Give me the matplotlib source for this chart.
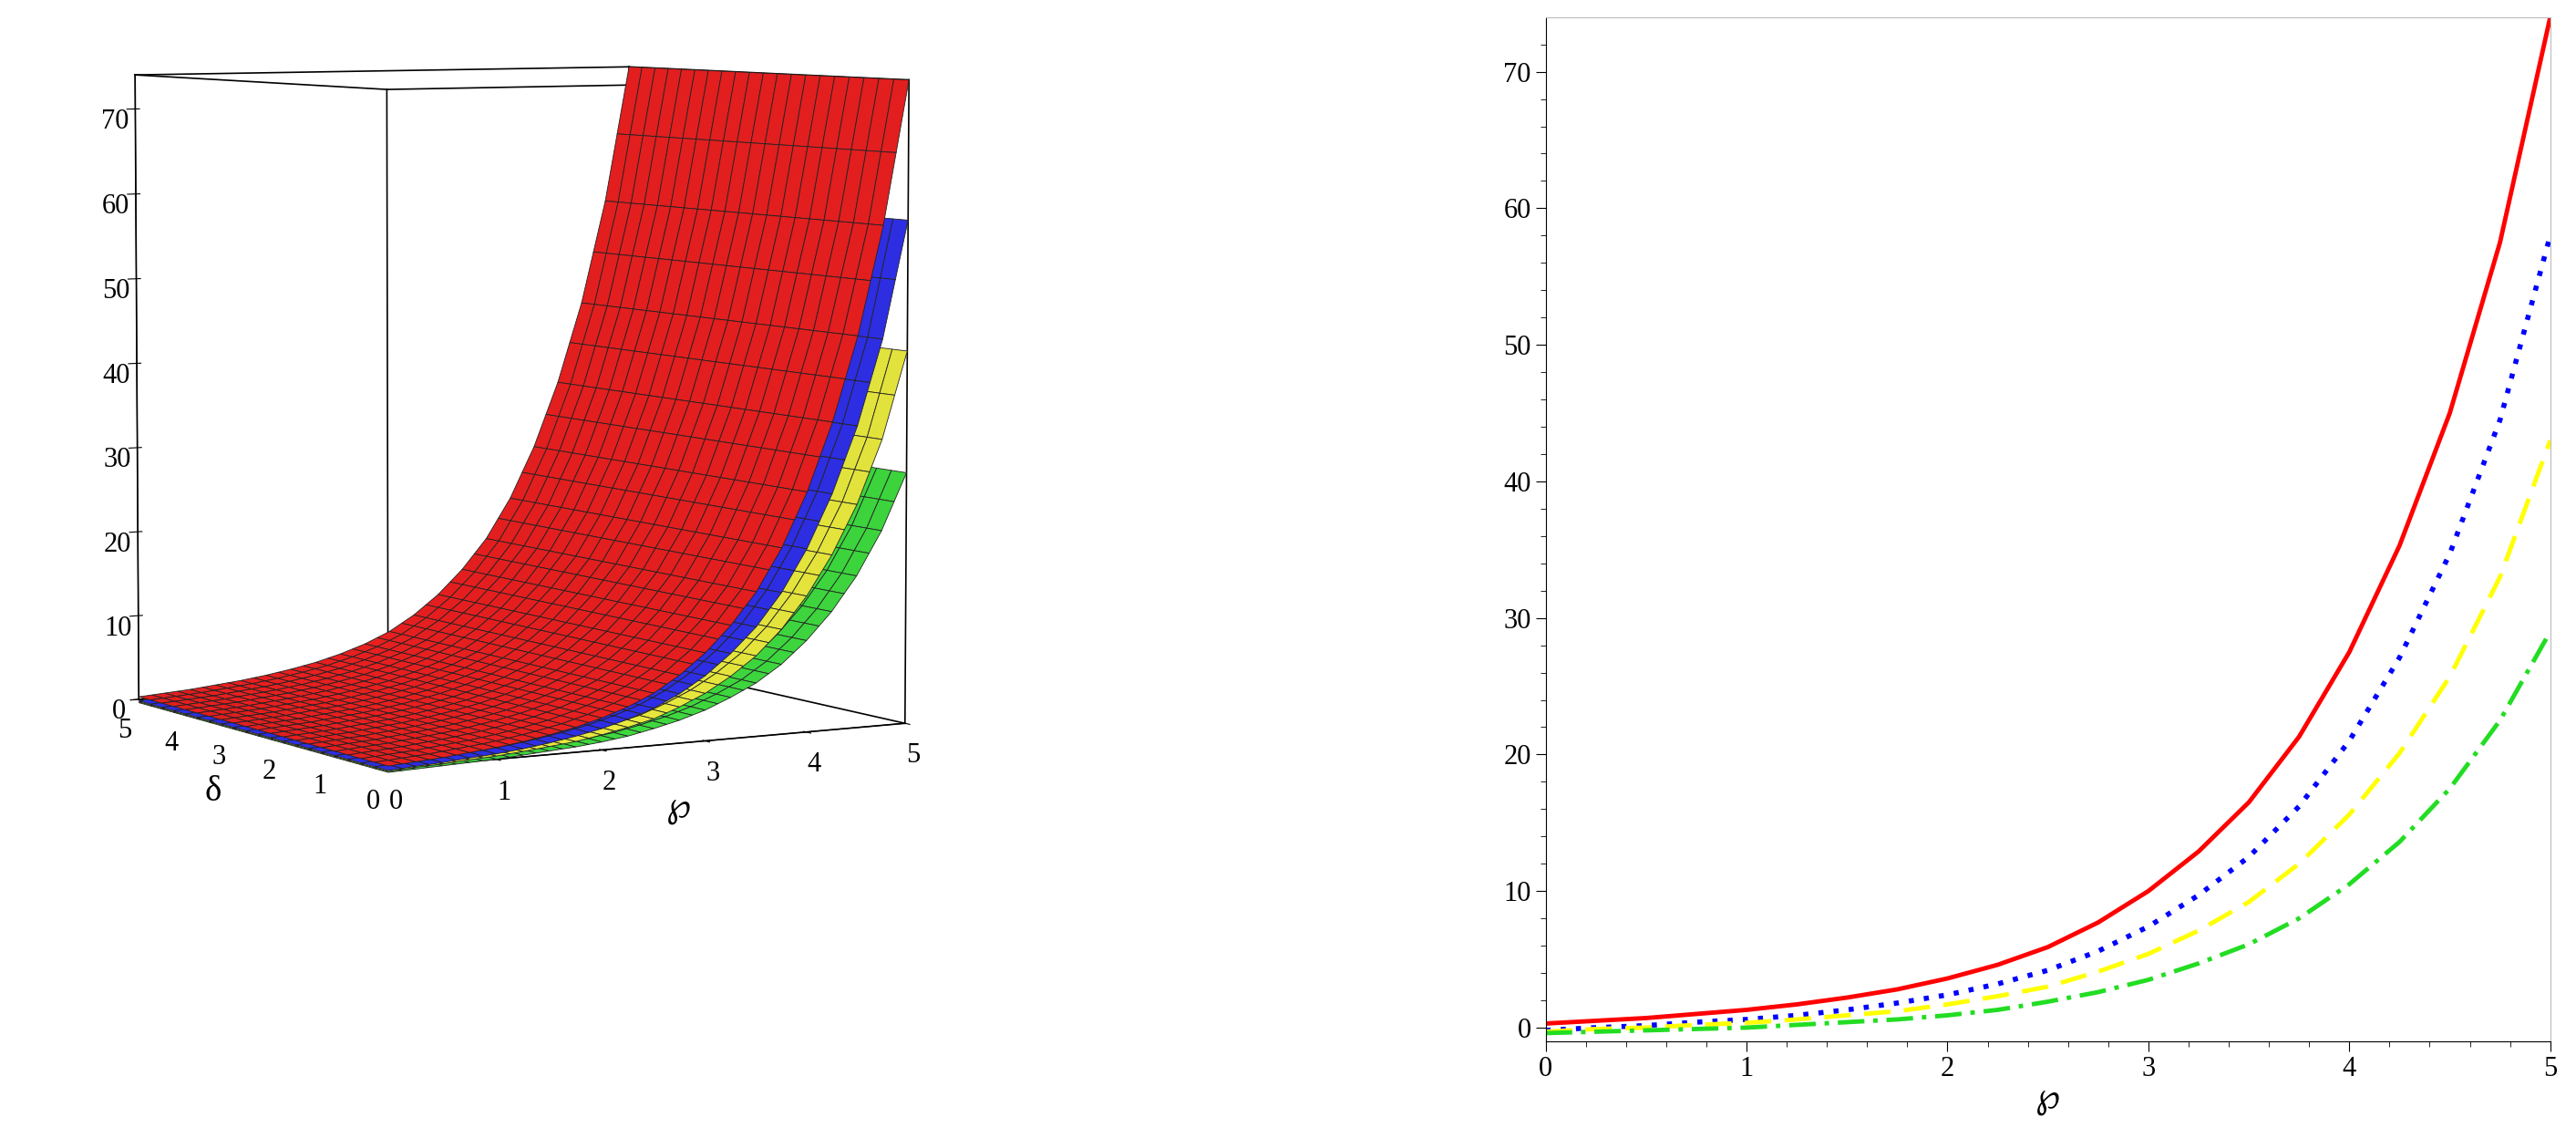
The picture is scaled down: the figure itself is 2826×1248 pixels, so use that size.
import numpy as np
import matplotlib.pyplot as plt

plt.rcParams['font.family'] = ['Liberation Serif', 'DejaVu Sans']

# values (right panel)
wp = [0, 0.25, 0.5, 0.75, 1, 1.25, 1.5, 1.75, 2, 2.25, 2.5, 2.75, 3, 3.25, 3.5, 3.75,
      4, 4.25, 4.5, 4.75, 5]
red = [0.3, 0.5, 0.7, 1.0, 1.3, 1.7, 2.2, 2.8, 3.6, 4.6, 5.9, 7.7, 10.0, 12.9, 16.5,
       21.3, 27.5, 35.3, 45.0, 57.5, 74.0]
blue = [-0.2, 0.0, 0.15, 0.4, 0.6, 0.9, 1.3, 1.8, 2.4, 3.2, 4.2, 5.6, 7.4, 9.7, 12.5,
        16.2, 21.0, 27.1, 34.7, 44.5, 58.0]
yellow = [-0.3, -0.1, 0.0, 0.2, 0.35, 0.6, 0.9, 1.2, 1.7, 2.3, 3.0, 4.1, 5.4, 7.1, 9.2,
          12.0, 15.6, 20.1, 25.7, 33.0, 43.0]
green = [-0.4, -0.3, -0.2, -0.1, 0.0, 0.2, 0.4, 0.6, 0.9, 1.3, 1.9, 2.6, 3.5, 4.7, 6.1,
         8.0, 10.5, 13.6, 17.5, 22.5, 29.0]

fig = plt.figure(figsize=(28.26, 12.48), dpi=100)

# left: 3D surfaces
ax3 = fig.add_axes([-0.01, 0.19, 0.41, 0.9], projection='3d')
X, Y = np.meshgrid(np.linspace(0, 5, 41), np.linspace(0, 5, 21))
for vals, col in [(green, '#44ee44'), (yellow, '#ffff44'), (blue, '#3333ff'), (red, '#ff2222')]:
    Z = np.interp(X, wp, vals)
    ax3.plot_surface(X, Y, Z, color=col, edgecolor='#222222', linewidth=0.6,
                     shade=True, alpha=1.0)
# bounding box
zt = 74
for xs, ys, zs in [([0, 5], [0, 0], [0, 0]), ([0, 0], [0, 5], [0, 0]),
                   ([0, 0], [0, 0], [0, zt]), ([5, 5], [0, 0], [0, zt]),
                   ([0, 0], [5, 5], [0, zt]), ([5, 5], [5, 5], [0, zt]),
                   ([0, 5], [0, 0], [zt, zt]), ([0, 0], [0, 5], [zt, zt]),
                   ([5, 5], [0, 5], [zt, zt]), ([0, 5], [5, 5], [zt, zt]),
                   ([5, 5], [0, 5], [0, 0]), ([0, 5], [5, 5], [0, 0])]:
    ax3.plot(xs, ys, zs, color='black', lw=1.2)
ax3.view_init(elev=5, azim=-120)
ax3.set_box_aspect((1.1, 1, 1.2), zoom=0.96)
ax3.set_xlim(0, 5)
ax3.set_ylim(0, 5)
ax3.set_zlim(0, zt)
ax3.set_xticks(range(6))
ax3.set_yticks(range(6))
ax3.set_zticks(range(0, 71, 10))
ax3.tick_params(labelsize=22)
ax3.set_xlabel('℘', fontsize=28, labelpad=15)
ax3.set_ylabel('δ', fontsize=28, labelpad=15)
for a in (ax3.xaxis, ax3.yaxis, ax3.zaxis):
    a.set_pane_color((1, 1, 1, 0))
    a._axinfo['grid']['color'] = (1, 1, 1, 0)
    a.line.set_color('black')

# right: 2D curves
ax = fig.add_axes([0.6, 0.085, 0.39, 0.9])
ax.plot(wp, red, color='red', lw=3.5, ls='-')
ax.plot(wp, blue, color='blue', lw=4, ls=(0, (1, 2)))
ax.plot(wp, yellow, color='yellow', lw=3.5, ls=(0, (6, 3)))
ax.plot(wp, green, color='#22dd22', lw=3.5, ls=(0, (6, 2, 1, 2)))
ax.set_xlim(0, 5)
ax.set_ylim(-1, 74)
ax.set_xticks(range(6))
ax.set_yticks(range(0, 71, 10))
ax.set_xticks(np.arange(0, 5.01, 0.2), minor=True)
ax.set_yticks(range(0, 74, 2), minor=True)
ax.tick_params(labelsize=22, direction='out', length=8)
ax.tick_params(which='minor', length=4)
for s in ax.spines.values():
    s.set_color('#bbbbbb')
ax.spines['left'].set_color('black')
ax.spines['bottom'].set_color('black')
ax.set_xlabel('℘', fontsize=28, labelpad=0)

fig.savefig('out.png', dpi=100)
